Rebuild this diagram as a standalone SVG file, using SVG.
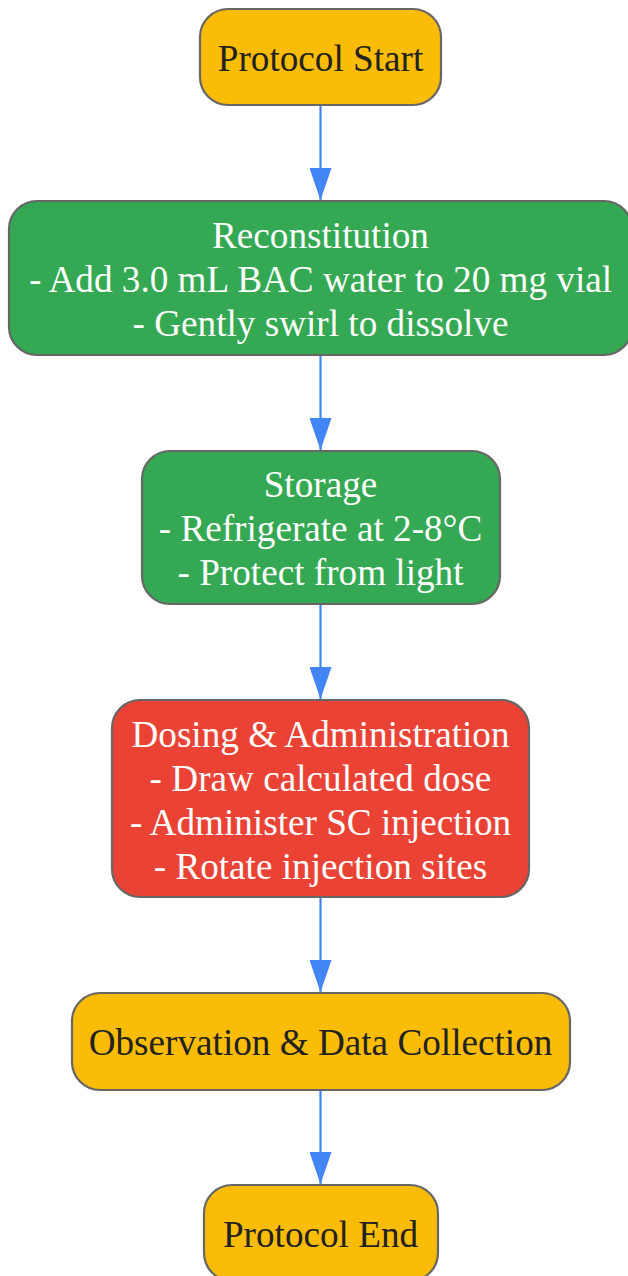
<svg xmlns="http://www.w3.org/2000/svg" width="628" height="1276" viewBox="0 0 628 1276">
<style>
.n{stroke:#666666;stroke-width:2.2}
.y{fill:#FBBC05}
.g{fill:#34A853}
.r{fill:#EA4335}
text{font-family:"Liberation Serif","Times New Roman",serif;font-size:37.2px;text-anchor:middle}
.dk{fill:#222222}
.wt{fill:#ffffff}
.e{stroke:#4285F4;stroke-width:2.2;fill:none}
</style>
<defs>
<marker id="ah" markerUnits="userSpaceOnUse" markerWidth="32" markerHeight="22" refX="32" refY="11" orient="auto" viewBox="0 0 32 22">
<path d="M0,0 L32,11 L0,22 Z" fill="#4285F4"/>
</marker>
</defs>
<g id="edges">
<path class="e" d="M320.5,105 V200" marker-end="url(#ah)"/>
<path class="e" d="M320.5,355 V450" marker-end="url(#ah)"/>
<path class="e" d="M320.5,604 V699" marker-end="url(#ah)"/>
<path class="e" d="M320.5,897 V992" marker-end="url(#ah)"/>
<path class="e" d="M320.5,1090 V1184" marker-end="url(#ah)"/>
</g>
<g id="start">
<rect class="n y" x="200" y="9" width="241" height="96" rx="28"/>
<text class="dk" x="320.5" y="71">Protocol Start</text>
</g>
<g id="reconstitution">
<rect class="n g" x="9" y="201" width="623" height="154" rx="28"/>
<text class="wt" x="320.5" y="248">Reconstitution</text>
<text class="wt" x="320.5" y="292">- Add 3.0 mL BAC water to 20 mg vial</text>
<text class="wt" x="320.5" y="336">- Gently swirl to dissolve</text>
</g>
<g id="storage">
<rect class="n g" x="142" y="451" width="358" height="153" rx="28"/>
<text class="wt" x="320.5" y="497">Storage</text>
<text class="wt" x="320.5" y="541">- Refrigerate at 2-8°C</text>
<text class="wt" x="320.5" y="585">- Protect from light</text>
</g>
<g id="dosing">
<rect class="n r" x="112" y="700" width="417" height="197" rx="28"/>
<text class="wt" x="320.5" y="746.5">Dosing &amp; Administration</text>
<text class="wt" x="320.5" y="790.5">- Draw calculated dose</text>
<text class="wt" x="320.5" y="834.5">- Administer SC injection</text>
<text class="wt" x="320.5" y="878.5">- Rotate injection sites</text>
</g>
<g id="observation">
<rect class="n y" x="72" y="993" width="498" height="97" rx="28"/>
<text class="dk" x="320.5" y="1055">Observation &amp; Data Collection</text>
</g>
<g id="end">
<rect class="n y" x="204" y="1185" width="234" height="96" rx="28"/>
<text class="dk" x="320.5" y="1247">Protocol End</text>
</g>
</svg>
